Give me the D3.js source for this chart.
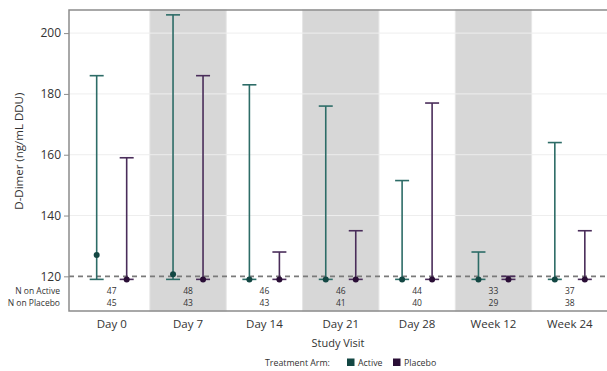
<!DOCTYPE html>
<html>
<head>
<meta charset="utf-8">
<script src="https://cdn.jsdelivr.net/npm/d3@7"></script>
<style>
  html, body { margin: 0; padding: 0; background: #fff; }
  svg { display: block; font-family: "Open Sans", "Noto Sans", sans-serif; }
</style>
</head>
<body>
<svg id="chart" width="607" height="371"></svg>
<script>
// Study visits and D-Dimer summaries (ng/mL DDU) per treatment arm
const visits = ["Day 0", "Day 7", "Day 14", "Day 21", "Day 28", "Week 12", "Week 24"];
const activeCenter = [127, 120.7, 119, 119, 119, 119, 119];
const activeLower  = [119, 119, 119, 119, 119, 119, 119];
const activeUpper  = [186, 206, 183, 176, 151.5, 128, 164];
const placeboCenter = [119, 119, 119, 119, 119, 119, 119];
const placeboLower  = [119, 119, 119, 119, 119, 119, 119];
const placeboUpper  = [159, 186, 128, 135, 177, 120, 135];
const nActive  = [47, 48, 46, 46, 44, 33, 37];
const nPlacebo = [45, 43, 43, 41, 40, 29, 38];
const yTicks = [120, 140, 160, 180, 200];
const referenceLevel = 120;
const arms = ["Active", "Placebo"];
const armColors = ["#2d6c67", "#4a2d5a"];
const armMarker = ["#134743", "#2a0e36"];

const svg = d3.select("#chart");
const frame = { left: 69, top: 10, right: 607, bottom: 311 };

const x = d3.scaleBand().domain(visits).range([73.5, 608]).padding(0);
const armOffset = d3.scalePoint().domain(arms).range([-15, 15]);
const y = d3.scaleLinear().domain([108.6, 207.6]).range([frame.bottom, frame.top]);

// alternating shaded visit columns
svg.append("g").selectAll("rect")
  .data(visits.filter((d, i) => i % 2 === 1))
  .join("rect")
  .attr("x", d => x(d))
  .attr("y", frame.top)
  .attr("width", x.bandwidth())
  .attr("height", frame.bottom - frame.top)
  .attr("fill", "#d7d7d7")
  .attr("stroke", "#e6e6e6")
  .attr("stroke-width", 1);

// light horizontal grid
svg.append("g").selectAll("line")
  .data(yTicks.filter(t => t > referenceLevel))
  .join("line")
  .attr("x1", frame.left).attr("x2", frame.right)
  .attr("y1", d => y(d)).attr("y2", d => y(d))
  .attr("stroke", "#eeeeee").attr("stroke-width", 1);

// reference line
svg.append("line")
  .attr("x1", frame.left).attr("x2", frame.right)
  .attr("y1", y(referenceLevel)).attr("y2", y(referenceLevel))
  .attr("stroke", "#7a7a7a").attr("stroke-width", 1.6)
  .attr("stroke-dasharray", "5,4");

// error bars for each arm
const series = [
  { arm: "Active", center: activeCenter, lower: activeLower, upper: activeUpper },
  { arm: "Placebo", center: placeboCenter, lower: placeboLower, upper: placeboUpper }
];
const capHalf = 7;
series.forEach((s, si) => {
  const g = svg.append("g");
  const rows = visits.map((v, i) => ({
    cx: x(v) + x.bandwidth() / 2 + armOffset(s.arm),
    c: s.center[i], lo: s.lower[i], hi: s.upper[i]
  }));
  g.selectAll("line.whisker").data(rows).join("line")
    .attr("class", "whisker")
    .attr("x1", d => d.cx).attr("x2", d => d.cx)
    .attr("y1", d => y(d.lo)).attr("y2", d => y(d.hi))
    .attr("stroke", armColors[si]).attr("stroke-width", 1.6);
  g.selectAll("line.capHi").data(rows).join("line")
    .attr("class", "capHi")
    .attr("x1", d => d.cx - capHalf).attr("x2", d => d.cx + capHalf)
    .attr("y1", d => y(d.hi)).attr("y2", d => y(d.hi))
    .attr("stroke", armColors[si]).attr("stroke-width", 1.6);
  g.selectAll("line.capLo").data(rows).join("line")
    .attr("class", "capLo")
    .attr("x1", d => d.cx - capHalf).attr("x2", d => d.cx + capHalf)
    .attr("y1", d => y(d.lo)).attr("y2", d => y(d.lo))
    .attr("stroke", armColors[si]).attr("stroke-width", 1.6);
  g.selectAll("circle").data(rows).join("circle")
    .attr("cx", d => d.cx).attr("cy", d => y(d.c)).attr("r", 3)
    .attr("fill", armMarker[si]);
});

// frame
svg.append("path")
  .attr("d", `M${frame.right},${frame.top}H${frame.left}V${frame.bottom}H${frame.right}`)
  .attr("fill", "none").attr("stroke", "#8c8c8c").attr("stroke-width", 1.5);

// y axis
const yAxis = d3.axisLeft(y).tickValues(yTicks).tickSize(5).tickPadding(3);
const ya = svg.append("g").attr("transform", `translate(${frame.left},0)`).call(yAxis);
ya.select(".domain").remove();
ya.selectAll(".tick line").attr("stroke", "#8c8c8c");
ya.selectAll(".tick text").attr("fill", "#333").style("font-size", "12px")
  .style("font-family", "'Open Sans', sans-serif");

svg.append("text")
  .attr("transform", `translate(23,${(frame.top + y(referenceLevel)) / 2 + 8}) rotate(-90)`)
  .attr("text-anchor", "middle").attr("fill", "#333").style("font-size", "11.5px")
  .text("D-Dimer (ng/mL DDU)");

// N-at-risk table inside the frame
const nRows = [
  { label: "N on Active", values: nActive, yPos: 294 },
  { label: "N on Placebo", values: nPlacebo, yPos: 306 }
];
nRows.forEach(r => {
  svg.append("text").attr("x", 60).attr("y", r.yPos)
    .attr("text-anchor", "end").attr("fill", "#333").style("font-size", "8.5px")
    .text(r.label);
  svg.append("g").selectAll("text").data(visits).join("text")
    .attr("x", d => x(d) + x.bandwidth() / 2).attr("y", r.yPos)
    .attr("text-anchor", "middle").attr("fill", "#333").style("font-size", "8.5px")
    .text((d, i) => r.values[i]);
});

// x axis labels
const xAxis = d3.axisBottom(x).tickSize(0).tickPadding(9);
const xa = svg.append("g").attr("transform", `translate(0,${frame.bottom})`).call(xAxis);
xa.select(".domain").remove();
xa.selectAll(".tick text").attr("fill", "#333").style("font-size", "11.5px")
  .style("font-family", "'Open Sans', sans-serif");

svg.append("text")
  .attr("x", 338).attr("y", 347).attr("text-anchor", "middle")
  .attr("fill", "#333").style("font-size", "11px").text("Study Visit");

// legend
const legend = svg.append("g").attr("transform", "translate(0,366)");
legend.append("text").attr("x", 265).attr("y", 0).attr("fill", "#333")
  .style("font-size", "8.8px").text("Treatment Arm:");
const legendX = [347, 393];
arms.forEach((a, i) => {
  legend.append("rect").attr("x", legendX[i]).attr("y", -7.5).attr("width", 7.5).attr("height", 7.5)
    .attr("fill", armMarker[i]);
  legend.append("text").attr("x", legendX[i] + 11).attr("y", 0).attr("fill", "#333")
    .style("font-size", "8.8px").text(a);
});
</script>
</body>
</html>
